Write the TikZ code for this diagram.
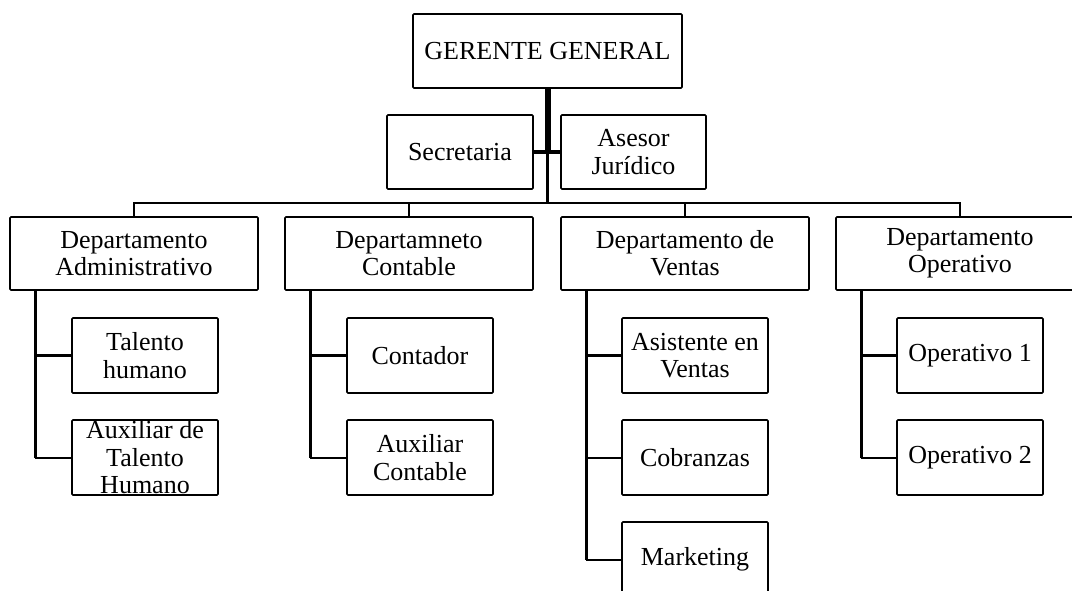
\documentclass[tikz,border=0pt]{standalone}
\usepackage{fontspec}
\setmainfont{Liberation Serif}
\begin{document}
\begin{tikzpicture}[x=0.75pt,y=-0.75pt,
  base/.style={draw, line width=1.2pt, rounded corners=0.8pt, align=center, inner sep=2pt,
    font=\fontsize{19.5}{20.5}\selectfont},
  top/.style={base, minimum width=269*0.75pt, minimum height=74*0.75pt},
  mid/.style={base, minimum width=146*0.75pt, minimum height=74*0.75pt},
  dept/.style={base, minimum width=248*0.75pt, minimum height=73*0.75pt},
  sub/.style={base, minimum width=146*0.75pt, minimum height=75*0.75pt},
  conn/.style={line width=1.5pt},
  thick1/.style={line width=2.4pt},
  trunk/.style={line width=4.5pt}]
\useasboundingbox (0,0) rectangle (1072,590);
\clip (0,0) rectangle (1072,590);
\fill[white] (0,0) rectangle (1072,590);

% boxes
\node[top] (gg) at (547.5,51) {GERENTE GENERAL};
\node[mid] (sec) at (460,152) {Secretaria};
\node[mid, minimum width=145*0.75pt] (ase) at (633.5,152) {Asesor\\Jurídico};

\node[dept] (da) at (134,253.5) {Departamento\\Administrativo};
\node[dept] (dc) at (409,253.5) {Departamneto\\Contable};
\node[dept] (dv) at (685,253.5) {Departamento de\\Ventas};
\node[dept] (do) at (960,253.5) {Departamento\\Operativo};

\node[sub] (a1) at (145,355.5) {Talento\\humano};
\node[sub] (a2) at (145,457.5) {\smash{\raisebox{-7.5pt}{\begin{tabular}{@{}c@{}}Auxiliar de\\Talento\\Humano\end{tabular}}}};

\node[sub] (c1) at (420,355.5) {Contador};
\node[sub] (c2) at (420,457.5) {Auxiliar\\Contable};

\node[sub] (v1) at (695,355.5) {Asistente en\\Ventas};
\node[sub] (v2) at (695,457.5) {Cobranzas};
\node[sub] (v3) at (695,559.5) {Marketing};

\node[sub] (o1) at (970,355.5) {Operativo 1};
\node[sub] (o2) at (970,457.5) {Operativo 2};

% trunk
\coordinate (bus) at (547.5,203);
\coordinate (jn) at (547.5,153);
\draw[trunk] (gg.south) -- (jn);
\draw[thick1] (jn) -- (bus);
\draw[thick1] (sec.east) -- (ase.west);

% bus and drops
\draw[conn] (da.north) |- (bus) -| (do.north);
\draw[conn] (dc.north) -- (dc.north |- bus);
\draw[conn] (dv.north) -- (dv.north |- bus);

% sub connectors
\foreach \d/\f/\l in {da/a1/a2, dc/c1/c2, do/o1/o2, dv/v1/v3} {
  \coordinate (\d-x) at ([xshift=26*0.75pt]\d.south west);
  \draw[thick1] (\d-x) -- (\d-x |- \l.west);
  \draw[thick1] (\d-x |- \f.west) -- (\f.west);
  \draw[conn] (\d-x |- \l.west) -- (\l.west);
}
\draw[conn] (dv-x |- v2.west) -- (v2.west);
\end{tikzpicture}
\end{document}
